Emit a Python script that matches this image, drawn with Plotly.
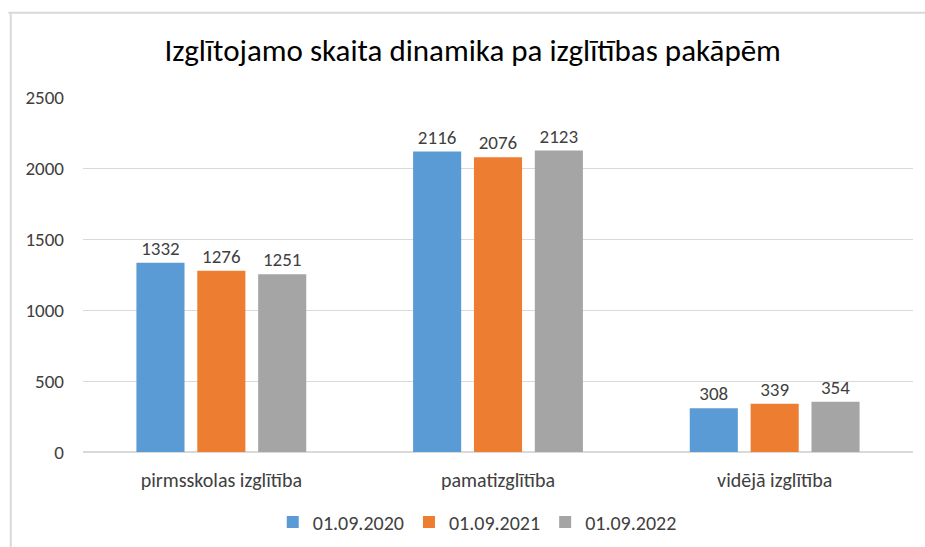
import plotly.graph_objects as go

categories = ["pirmsskolas izglītība", "pamatizglītība", "vidējā izglītība"]
series_names = ["01.09.2020", "01.09.2021", "01.09.2022"]
values_2020 = [1332, 2116, 308]
values_2021 = [1276, 2076, 339]
values_2022 = [1251, 2123, 354]
colours = ["#5b9bd5", "#ed7d31", "#a5a5a5"]

font_family = "Carlito, Lato, Open Sans, sans-serif"
text_grey = "#404040"

fig = go.Figure()
for name, vals, col in zip(series_names, [values_2020, values_2021, values_2022], colours):
    fig.add_trace(go.Bar(
        name=name, x=categories, y=vals, marker=dict(color=col, line=dict(width=0)),
        text=[str(v) for v in vals], textposition="outside", cliponaxis=False,
        textfont=dict(size=19, color=text_grey, family=font_family),
    ))

fig.update_layout(
    width=925, height=547,
    margin=dict(l=83, r=12, t=97, b=95, autoexpand=False),
    paper_bgcolor="white", plot_bgcolor="white",
    barmode="group", bargap=0.34, bargroupgap=0.21,
    font=dict(family=font_family, color=text_grey),
    title=dict(text="Izglītojamo skaita dinamika pa izglītības pakāpēm",
               x=0.511, xanchor="center", y=0.908, yanchor="middle",
               font=dict(size=31, color="#000000", family=font_family)),
    legend=dict(orientation="h", x=0.475, xanchor="center", y=-0.197, yanchor="middle",
                font=dict(size=20, color=text_grey), itemwidth=30, traceorder="normal"),
    shapes=[
        dict(type="line", xref="paper", yref="paper", x0=-0.09, x1=1.05, y0=1.237, y1=1.237,
             line=dict(color="#d9d9d9", width=2)),
        dict(type="line", xref="paper", yref="paper", x0=-0.087, x1=-0.087, y0=1.237, y1=-0.3,
             line=dict(color="#d9d9d9", width=2)),
    ],
)
fig.update_yaxes(range=[0, 2500], dtick=500, showgrid=True, gridcolor="#d9d9d9",
                 zeroline=True, zerolinecolor="#d9d9d9", ticks="", ticklabelstandoff=18,
                 tickfont=dict(size=19, color=text_grey))
fig.update_xaxes(showline=False, ticks="", tickfont=dict(size=20, color=text_grey),
                 ticklabelstandoff=14)

fig.write_html("out.html", config={"displayModeBar": False},
               post_script="document.body.style.margin='0';")
